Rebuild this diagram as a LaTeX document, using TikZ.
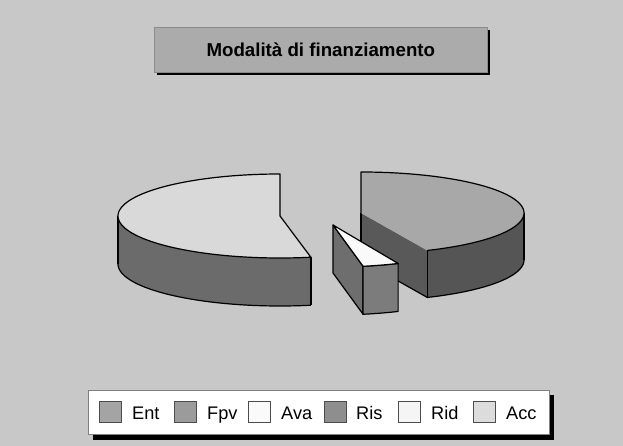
\documentclass[tikz,border=0pt]{standalone}
\usepackage{fontspec}
\setmainfont{Liberation Sans}
\definecolor{bg}{HTML}{C8C8C8}
\definecolor{titlefill}{HTML}{ABABAB}
\definecolor{accTop}{HTML}{D9D9D9}
\definecolor{accSide}{HTML}{6B6B6B}
\definecolor{entTop}{HTML}{A8A8A8}
\definecolor{entRad}{HTML}{595959}
\definecolor{entSide}{HTML}{555555}
\definecolor{avaTop}{HTML}{FAFAFA}
\definecolor{avaRad}{HTML}{6E6E6E}
\definecolor{avaSide}{HTML}{7C7C7C}
\definecolor{cEnt}{HTML}{A4A4A4}
\definecolor{cFpv}{HTML}{9B9B9B}
\definecolor{cAva}{HTML}{FAFAFA}
\definecolor{cRis}{HTML}{8E8E8E}
\definecolor{cRid}{HTML}{F5F5F5}
\definecolor{cAcc}{HTML}{DCDCDC}
\begin{document}
\begin{tikzpicture}[x=1pt,y=-1pt,
  face/.style={draw=black,line width=1.2pt,line join=round},
  swatch/.style={draw=black!70,line width=0.6pt,minimum width=22pt,minimum height=21pt,inner sep=0pt,anchor=north west},
  legtext/.style={font=\fontsize{18.2}{20}\selectfont,anchor=base west,inner sep=0pt},
]
\useasboundingbox (0,0) rectangle (623,446);
\fill[bg] (0,0) rectangle (623,446);

% title
\fill[black] (157,30) rectangle (490,75);
\node[draw=black!45,line width=0.6pt,fill=titlefill,minimum width=333pt,minimum height=45pt,inner sep=0pt,anchor=north west,
  font=\bfseries\fontsize{18.7}{20}\selectfont] (title) at (154,27) {Modalità di finanziamento};

% ---- left piece (Acc): centre (280,216), rx 162, ry 42, depth 48
\def\cx{280}\def\cy{216}\def\rx{162}\def\ry{42}\def\dd{48}
\fill[accSide] plot[domain=180:281,samples=60] ({\cx+\rx*cos(\x)},{\cy-\ry*sin(\x)})
  -- plot[domain=281:180,samples=60] ({\cx+\rx*cos(\x)},{\cy+\dd-\ry*sin(\x)}) -- cycle;
\draw[face] plot[domain=180:281,samples=60] ({\cx+\rx*cos(\x)},{\cy+\dd-\ry*sin(\x)});
\draw[face] ({\cx+\rx*cos(180)},{\cy}) -- ++(0,\dd);
\draw[face] ({\cx+\rx*cos(281)},{\cy-\ry*sin(281)}) -- ++(0,\dd);
\filldraw[face,fill=accTop] plot[domain=90:281,samples=90] ({\cx+\rx*cos(\x)},{\cy-\ry*sin(\x)}) -- (\cx,\cy) -- cycle;

% ---- right piece (Ent): centre (361,213), rx 163, ry 41, depth 47
\def\cx{361}\def\cy{213}\def\rx{163}\def\ry{41}\def\dd{47}
\fill[entRad] (\cx,\cy) -- ({\cx+\rx*cos(-66)},{\cy-\ry*sin(-66)}) -- ++(0,\dd) -- (\cx,\cy+\dd) -- cycle;
\fill[entSide] plot[domain=-66:0,samples=40] ({\cx+\rx*cos(\x)},{\cy-\ry*sin(\x)})
  -- plot[domain=0:-66,samples=40] ({\cx+\rx*cos(\x)},{\cy+\dd-\ry*sin(\x)}) -- cycle;
\draw[face] (\cx,\cy+\dd) -- plot[domain=-66:0,samples=40] ({\cx+\rx*cos(\x)},{\cy+\dd-\ry*sin(\x)});
\draw[face] ({\cx+\rx*cos(-66)},{\cy-\ry*sin(-66)}) -- ++(0,\dd);
\draw[face] (\cx+\rx,\cy) -- ++(0,\dd);
\draw[face] (\cx,\cy) -- (\cx,\cy+\dd);
\fill[entTop] plot[domain=90:-66,samples=80] ({\cx+\rx*cos(\x)},{\cy-\ry*sin(\x)}) -- (\cx,\cy) -- cycle;
\draw[face] ({\cx+\rx*cos(-66)},{\cy-\ry*sin(-66)}) -- plot[domain=-66:90,samples=80] ({\cx+\rx*cos(\x)},{\cy-\ry*sin(\x)}) -- (\cx,\cy);

% ---- small wedge (Ava): centre (333,225), rx 162, ry 42, depth 48
\def\cx{333}\def\cy{225}\def\rx{162}\def\ry{42}\def\dd{48}
\filldraw[face,fill=avaRad] (\cx,\cy) -- ({\cx+\rx*cos(-79.3)},{\cy-\ry*sin(-79.3)}) -- ++(0,\dd) -- (\cx,\cy+\dd) -- cycle;
\filldraw[face,fill=avaSide] plot[domain=-79.3:-66.3,samples=20] ({\cx+\rx*cos(\x)},{\cy-\ry*sin(\x)})
  -- plot[domain=-66.3:-79.3,samples=20] ({\cx+\rx*cos(\x)},{\cy+\dd-\ry*sin(\x)}) -- cycle;
\filldraw[face,fill=avaTop] (\cx,\cy) -- plot[domain=-79.3:-66.3,samples=20] ({\cx+\rx*cos(\x)},{\cy-\ry*sin(\x)}) -- cycle;

% ---- legend
\fill[black] (93,395) rectangle (554,440);
\node[draw=black!50,line width=0.6pt,fill=white,minimum width=461pt,minimum height=44pt,inner sep=0pt,anchor=north west] (legend) at (88,390) {};
\node[swatch,fill=cEnt] (sEnt) at (99,401) {};
\node[legtext] (tEnt) at (132,419) {Ent};
\node[swatch,fill=cFpv] (sFpv) at (174,401) {};
\node[legtext] (tFpv) at (207,419) {Fpv};
\node[swatch,fill=cAva] (sAva) at (248,401) {};
\node[legtext] (tAva) at (281,419) {Ava};
\node[swatch,fill=cRis] (sRis) at (324,401) {};
\node[legtext] (tRis) at (356,419) {Ris};
\node[swatch,fill=cRid] (sRid) at (398,401) {};
\node[legtext] (tRid) at (431,419) {Rid};
\node[swatch,fill=cAcc] (sAcc) at (473,401) {};
\node[legtext] (tAcc) at (506,419) {Acc};
\end{tikzpicture}
\end{document}
